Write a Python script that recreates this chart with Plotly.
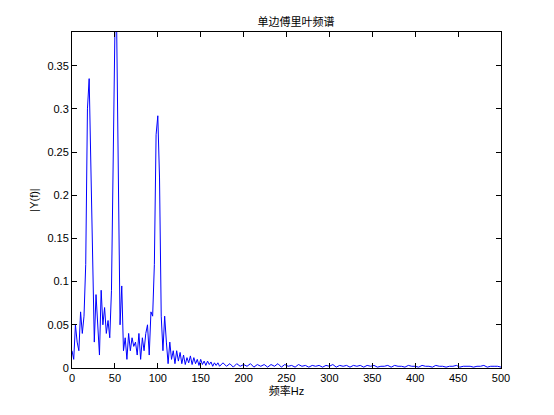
import plotly.graph_objects as pgo

# frequency axis (Hz) and single-sided amplitude
freq_low = list(range(0, 172, 2))
amp_low = [0.02, 0.01, 0.05, 0.03, 0.02, 0.065, 0.04, 0.06, 0.12, 0.30,
           0.335, 0.22, 0.11, 0.03, 0.085, 0.055, 0.015, 0.09, 0.05, 0.07,
           0.04, 0.055, 0.035, 0.09, 0.25, 0.39, 0.40, 0.23, 0.05, 0.095,
           0.02, 0.035, 0.01, 0.04, 0.02, 0.035, 0.025, 0.03, 0.015, 0.04,
           0.01, 0.035, 0.02, 0.04, 0.05, 0.015, 0.065, 0.06, 0.12, 0.27,
           0.292, 0.22, 0.06, 0.02, 0.06, 0.03, 0.005, 0.03, 0.01, 0.02,
           0.005, 0.02, 0.008, 0.018, 0.005, 0.015, 0.004, 0.012, 0.006, 0.014,
           0.004, 0.012, 0.005, 0.01, 0.003, 0.01, 0.004, 0.008, 0.003, 0.008,
           0.004, 0.007, 0.002, 0.006, 0.003, 0.006]
freq_high = list(range(172, 504, 4))
amp_high = [0.002, 0.006, 0.002, 0.005, 0.001, 0.005, 0.002, 0.004, 0.002, 0.005,
            0.001, 0.004, 0.002, 0.004, 0.001, 0.004, 0.002, 0.005, 0.001, 0.004,
            0.002, 0.003, 0.001, 0.004, 0.002, 0.003, 0.001, 0.003, 0.002, 0.003,
            0.001, 0.003, 0.002, 0.004, 0.001, 0.003, 0.002, 0.003, 0.001, 0.003,
            0.002, 0.003, 0.001, 0.003, 0.002, 0.003, 0.001, 0.002, 0.002, 0.003,
            0.001, 0.003, 0.002, 0.002, 0.001, 0.003, 0.002, 0.002, 0.001, 0.003,
            0.002, 0.002, 0.001, 0.003, 0.002, 0.002, 0.001, 0.002, 0.002, 0.003,
            0.001, 0.002, 0.002, 0.002, 0.001, 0.002, 0.002, 0.003, 0.001, 0.002,
            0.002, 0.002, 0.001]
freq = freq_low + freq_high
amp = amp_low + amp_high[:len(freq_high)]

fig = pgo.Figure()
fig.add_trace(pgo.Scatter(x=freq, y=amp, mode="lines",
                          line=dict(color="#0000ff", width=1)))

axis_style = dict(showline=True, linecolor="black", linewidth=1, mirror="ticks",
                  ticks="inside", ticklen=5, tickcolor="black", showgrid=False,
                  zeroline=False, automargin=False, tickfont=dict(size=11, color="black"))
fig.update_layout(
    width=554, height=415, template="none",
    paper_bgcolor="white", plot_bgcolor="white", showlegend=False,
    margin=dict(l=64, r=61, t=24, b=55),
    font=dict(family="Liberation Sans, Noto Sans CJK SC", size=11, color="black"),
    title=dict(text="单边傅里叶频谱", x=0.52, xanchor="center", y=0.975, font=dict(size=11)),
    xaxis=dict(range=[0, 500], tickvals=list(range(0, 550, 50)),
               title=dict(text="频率Hz", standoff=2, font=dict(size=11)), **axis_style),
    yaxis=dict(range=[0, 0.389], tickvals=[0, 0.05, 0.1, 0.15, 0.2, 0.25, 0.3, 0.35],
               ticktext=["0", "0.05", "0.1", "0.15", "0.2", "0.25", "0.3", "0.35"],
               title=dict(text="|Y(f)|", standoff=6, font=dict(size=11)), **axis_style),
)
fig.write_html("out.html")
